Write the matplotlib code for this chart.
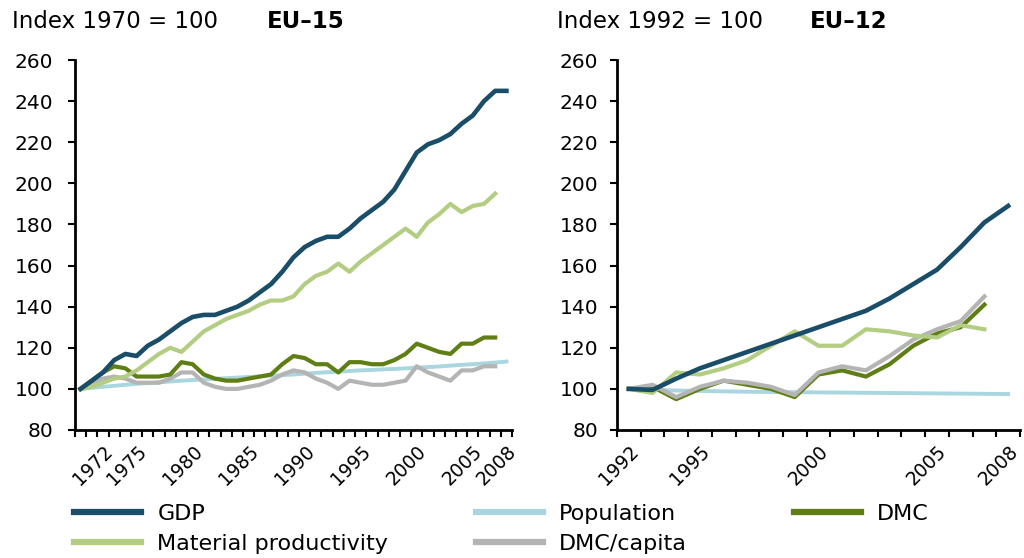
import numpy as np
import matplotlib.pyplot as plt
from matplotlib.ticker import MultipleLocator, FixedLocator

# EU-15, index 1970 = 100
years_15 = list(range(1970, 2009))
gdp_15 = [100, 104, 108, 114, 117, 116, 121, 124, 128, 132, 135, 136, 136, 138, 140, 143,
          147, 151, 157, 164, 169, 172, 174, 174, 178, 183, 187, 191, 197, 206, 215, 219,
          221, 224, 229, 233, 240, 245, 245]
pop_15 = [100, 100.5, 101, 101.5, 102, 102.5, 102.8, 103.2, 103.6, 104, 104.3, 104.6, 104.9,
          105.2, 105.5, 105.8, 106.1, 106.4, 106.7, 107, 107.4, 107.8, 108.1, 108.4, 108.7,
          109, 109.2, 109.5, 109.7, 110, 110.3, 110.6, 110.9, 111.3, 111.7, 112, 112.4,
          112.8, 113.3]
# these three end in 2007
mp_15 = [100, 101, 103, 105, 106, 109, 113, 117, 120, 118, 123, 128, 131, 134, 136, 138,
         141, 143, 143, 145, 151, 155, 157, 161, 157, 162, 166, 170, 174, 178, 174, 181,
         185, 190, 186, 189, 190, 195]
dmc_15 = [100, 104, 108, 111, 110, 106, 106, 106, 107, 113, 112, 107, 105, 104, 104, 105,
          106, 107, 112, 116, 115, 112, 112, 108, 113, 113, 112, 112, 114, 117, 122, 120,
          118, 117, 122, 122, 125, 125]
dmccap_15 = [100, 103, 105, 106, 105, 103, 103, 103, 105, 108, 108, 103, 101, 100, 100, 101,
             102, 104, 107, 109, 108, 105, 103, 100, 104, 103, 102, 102, 103, 104, 111, 108,
             106, 104, 109, 109, 111, 111]

# EU-12, index 1992 = 100
years_12 = list(range(1992, 2009))
gdp_12 = [100, 99.5, 105, 110, 114, 118, 122, 126, 130, 134, 138, 144, 151, 158, 169, 181, 189]
pop_12 = [100, 99.6, 99.2, 99, 98.8, 98.6, 98.5, 98.4, 98.3, 98.2, 98.1, 98, 97.9, 97.8,
          97.7, 97.6, 97.5]
mp_12 = [100, 98, 108, 107, 110, 114, 121, 128, 121, 121, 129, 128, 126, 125, 131, 129]
dmc_12 = [100, 101, 95, 100, 104, 102, 100, 96, 107, 109, 106, 112, 121, 127, 130, 141]
dmccap_12 = [100, 102, 96, 101, 104, 103, 101, 97, 108, 111, 109, 116, 124, 129, 133, 145]

labels_15 = [1972, 1975, 1980, 1985, 1990, 1995, 2000, 2005, 2008]
labels_12 = [1992, 1995, 2000, 2005, 2008]

c_gdp = '#1a4d68'
c_pop = '#a9d6df'
c_dmc = '#5f7f14'
c_mp = '#b3cd82'
c_cap = '#b4b4b4'

plt.rcParams['font.family'] = ['DejaVu Sans']

fig = plt.figure(figsize=(10.24, 5.58), dpi=100)
ax1 = fig.add_axes([0.0732, 0.2294, 0.4268, 0.663])
ax2 = fig.add_axes([0.6025, 0.2294, 0.3936, 0.663])


def draw(ax, yrs, gdp, pop, mp, dmc, cap, labels, cap_on_top, ypad):
    n = len(mp)
    ax.plot(yrs, pop, color=c_pop, lw=2.8, zorder=2)
    ax.plot(yrs[:n], cap, color=c_cap, lw=3, zorder=4 if cap_on_top else 3)
    ax.plot(yrs[:n], dmc, color=c_dmc, lw=3, zorder=3 if cap_on_top else 4)
    ax.plot(yrs[:n], mp, color=c_mp, lw=3, zorder=5)
    ax.plot(yrs, gdp, color=c_gdp, lw=3.3, zorder=6)
    ax.set_xlim(yrs[0] - 0.5, yrs[-1] + 0.5)
    ax.set_ylim(80, 260)
    ax.yaxis.set_major_locator(MultipleLocator(20))
    ax.xaxis.set_major_locator(FixedLocator(labels))
    ax.set_xticklabels([str(v) for v in labels], rotation=45, ha='right',
                       rotation_mode='anchor', fontsize=13.5)
    ax.xaxis.set_minor_locator(FixedLocator(np.arange(yrs[0] - 0.5, yrs[-1] + 1, 1)))
    ax.tick_params(axis='x', which='major', length=0, pad=8.5)
    ax.tick_params(axis='x', which='minor', length=5, width=1.5, direction='out')
    ax.tick_params(axis='y', length=5, width=1.5, labelsize=14.5, pad=ypad)
    for s in ['top', 'right']:
        ax.spines[s].set_visible(False)
    for s in ['left', 'bottom']:
        ax.spines[s].set_linewidth(2)


draw(ax1, years_15, gdp_15, pop_15, mp_15, dmc_15, dmccap_15, labels_15, False, 10.5)
draw(ax2, years_12, gdp_12, pop_12, mp_12, dmc_12, dmccap_12, labels_12, True, 8.5)

fs_t = 16.5
ty = 1 - 22 / 558
fig.text(12 / 1024, ty, 'Index 1970 = 100', fontsize=fs_t, va='center')
fig.text(267 / 1024, ty, 'EU\u201315', fontsize=fs_t, va='center', fontweight='bold')
fig.text(557 / 1024, ty, 'Index 1992 = 100', fontsize=fs_t, va='center')
fig.text(810 / 1024, ty, 'EU\u201312', fontsize=fs_t, va='center', fontweight='bold')

# legend, one entry per spot
h = ax1.get_lines()
entries = [(h[4], 'GDP', 74, 514), (h[3], 'Material productivity', 74, 544),
           (h[0], 'Population', 476, 514), (h[1], 'DMC/capita', 476, 544),
           (h[2], 'DMC', 794, 514)]
fs_l = 16
for hd, name, px, py in entries:
    leg = fig.legend([hd], [name], loc='center left',
                     bbox_to_anchor=(px / 1024, 1 - py / 558), frameon=False,
                     fontsize=fs_l, handlelength=3.0, handletextpad=0.75,
                     borderaxespad=0, borderpad=0)
    for line in leg.get_lines():
        line.set_linewidth(4.5)

fig.savefig('out.png', dpi=100)
